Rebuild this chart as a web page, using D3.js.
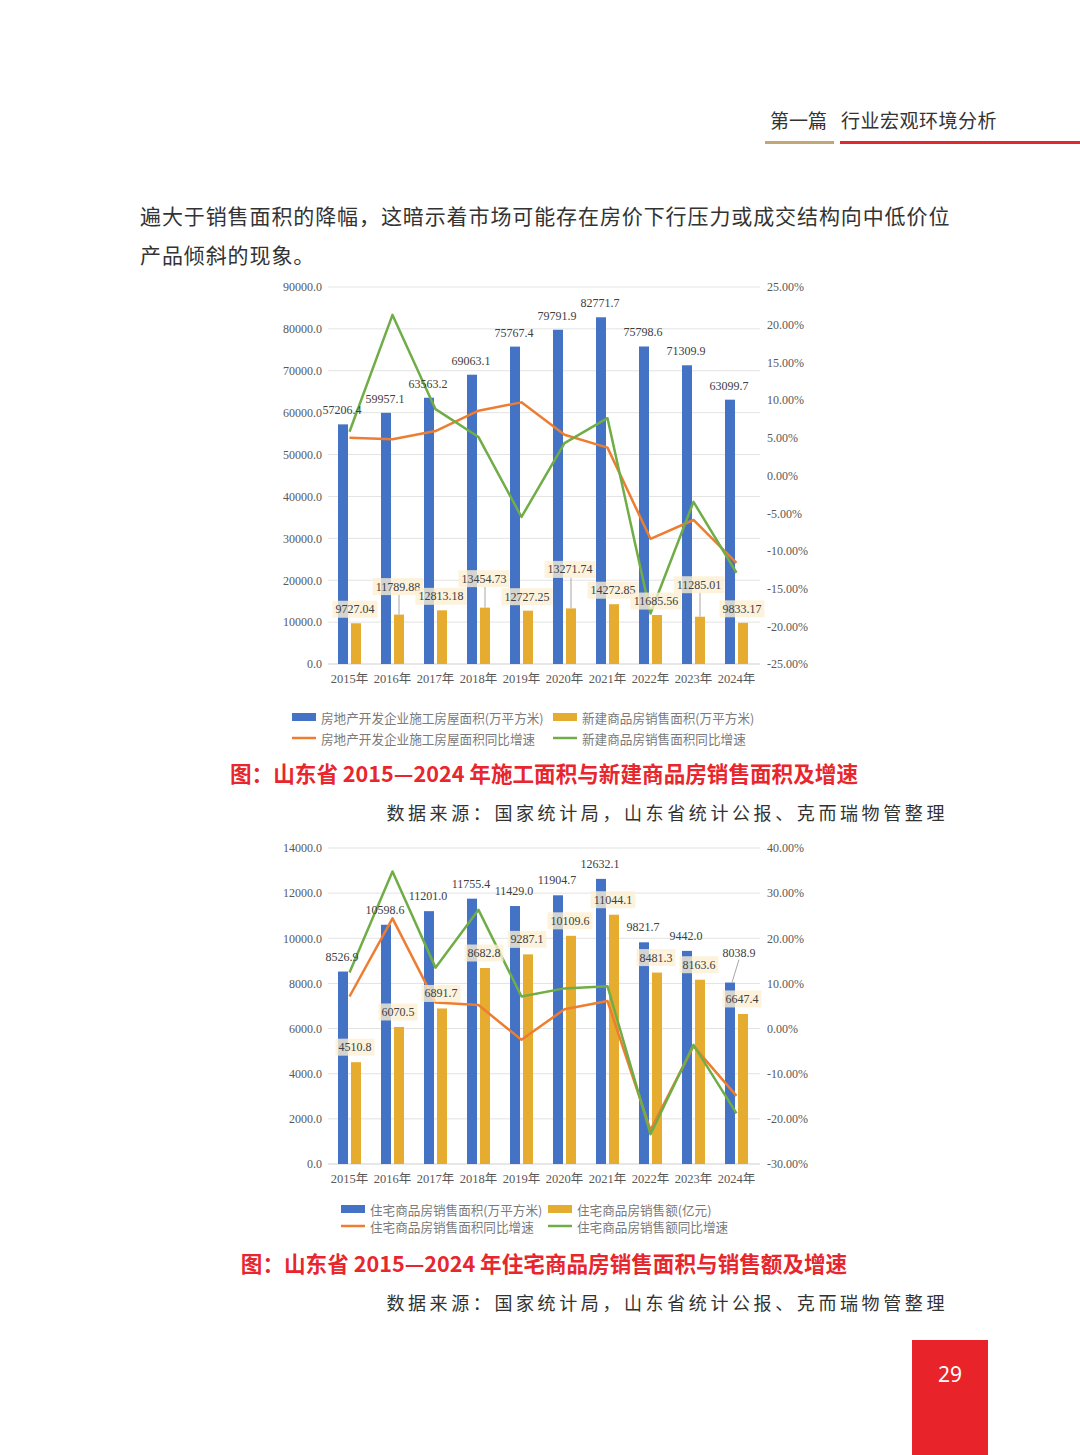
<!DOCTYPE html>
<html><head><meta charset="utf-8">
<script src="https://cdn.jsdelivr.net/npm/d3@7"></script>
<style>
html,body{margin:0;padding:0;background:#fff;}
svg{display:block;}
</style></head>
<body>
<svg id="page" width="1080" height="1455"></svg>
<script>
// ---------- DATA ----------
const years = ['2015年','2016年','2017年','2018年','2019年','2020年','2021年','2022年','2023年','2024年'];

// Chart 1
const constructionArea = [57206.4, 59957.1, 63563.2, 69063.1, 75767.4, 79791.9, 82771.7, 75798.6, 71309.9, 63099.7];
const newSalesArea = [9727.04, 11789.88, 12813.18, 13454.73, 12727.25, 13271.74, 14272.85, 11685.56, 11285.01, 9833.17];
const constructionGrowth = [5.0, 4.8, 5.9, 8.6, 9.7, 5.4, 3.7, -8.4, -5.9, -11.6];
const newSalesGrowth = [5.8, 21.3, 8.8, 5.1, -5.5, 4.3, 7.6, -18.3, -3.5, -12.9];
const leftTicks1 = [0, 10000, 20000, 30000, 40000, 50000, 60000, 70000, 80000, 90000];
const rightTicks1 = [-25, -20, -15, -10, -5, 0, 5, 10, 15, 20, 25];
const legend1 = ['房地产开发企业施工房屋面积(万平方米)', '新建商品房销售面积(万平方米)', '房地产开发企业施工房屋面积同比增速', '新建商品房销售面积同比增速'];

// Chart 2
const resSalesArea = [8526.9, 10598.6, 11201.0, 11755.4, 11429.0, 11904.7, 12632.1, 9821.7, 9442.0, 8038.9];
const resSalesAmount = [4510.8, 6070.5, 6891.7, 8682.8, 9287.1, 10109.6, 11044.1, 8481.3, 8163.6, 6647.4];
const resAreaGrowth = [7.1, 24.4, 5.8, 5.2, -2.5, 4.3, 6.1, -22.5, -3.9, -14.9];
const resAmountGrowth = [12.4, 34.8, 13.5, 26.3, 7.1, 8.9, 9.4, -23.4, -3.6, -18.8];
const leftTicks2 = [0, 2000, 4000, 6000, 8000, 10000, 12000, 14000];
const rightTicks2 = [-30, -20, -10, 0, 10, 20, 30, 40];
const legend2 = ['住宅商品房销售面积(万平方米)', '住宅商品房销售额(亿元)', '住宅商品房销售面积同比增速', '住宅商品房销售额同比增速'];

// label layout tweaks (offset of label centre above bar top, leader lines)
const labelLift1Orange = [14, 28, 14, 29, 14, 39, 14, 14, 32, 14];
const leader1Orange = [0, 1, 0, 1, 0, 1, 0, 0, 1, 0];
const labelLift2Blue = [15, 15, 15, 15, 15, 15, 15, 15, 15, 30];
const labelShift2Blue = [0, 0, 0, 0, 0, 0, 0, 0, 0, 10];
const leader2Blue = [0, 0, 0, 0, 0, 0, 0, 0, 0, 1];

// ---------- STYLE ----------
const C_BLUE = '#4472c4', C_GOLD = '#e6ac30', C_ORANGE = '#ed7d31', C_GREEN = '#70ad47';
const SERIF = '"Liberation Serif","Times New Roman","Noto Sans CJK SC",serif';
const CJK = '"Noto Sans CJK SC","Noto Sans",sans-serif';

const svg = d3.select('#page');

// ---------- HEADER ----------
svg.append('text').attr('x', 770).attr('y', 128).attr('font-family', CJK).attr('font-size', 19)
  .attr('fill', '#333').text('第一篇');
svg.append('text').attr('x', 841).attr('y', 128).attr('font-family', CJK).attr('font-size', 19)
  .attr('letter-spacing', 0.5).attr('fill', '#333').text('行业宏观环境分析');
svg.append('rect').attr('x', 765).attr('y', 141).attr('width', 69).attr('height', 3).attr('fill', '#c2a676');
svg.append('rect').attr('x', 840).attr('y', 141).attr('width', 240).attr('height', 3).attr('fill', '#e0282e');

// ---------- BODY TEXT ----------
svg.append('text').attr('x', 140).attr('y', 224).attr('font-family', CJK).attr('font-size', 21)
  .attr('letter-spacing', 0.9).attr('fill', '#333').text('遍大于销售面积的降幅，这暗示着市场可能存在房价下行压力或成交结构向中低价位');
svg.append('text').attr('x', 140).attr('y', 263).attr('font-family', CJK).attr('font-size', 21)
  .attr('letter-spacing', 0.9).attr('fill', '#333').text('产品倾斜的现象。');

// ---------- CHART FUNCTION ----------
function drawChart(o) {
  const g = svg.append('g');
  const x = d3.scaleBand().domain(years).range([328, 758]).paddingInner(0.465).paddingOuter(0.2325);
  const inner = d3.scaleBand().domain(['a', 'b']).range([0, x.bandwidth()]).paddingInner(3 / 13);
  const yL = d3.scaleLinear().domain([0, d3.max(o.leftTicks)]).range([o.bottom, o.top]);
  const yR = d3.scaleLinear().domain([d3.min(o.rightTicks), d3.max(o.rightTicks)]).range([o.bottom, o.top]);

  // grid
  g.append('g').selectAll('line').data(o.leftTicks.filter(t => t > 0)).join('line')
    .attr('x1', 328).attr('x2', 760).attr('y1', d => yL(d)).attr('y2', d => yL(d))
    .attr('stroke', '#e3e3e3').attr('stroke-width', 1);
  g.append('line').attr('x1', 328).attr('x2', 760).attr('y1', o.bottom).attr('y2', o.bottom)
    .attr('stroke', '#d0d0d0').attr('stroke-width', 1.2);

  // axes
  const la = g.append('g').attr('transform', 'translate(322,0)')
    .call(d3.axisLeft(yL).tickValues(o.leftTicks).tickFormat(d3.format('.1f')).tickSize(0).tickPadding(0));
  const ra = g.append('g').attr('transform', 'translate(767,0)')
    .call(d3.axisRight(yR).tickValues(o.rightTicks).tickFormat(d => d.toFixed(2) + '%').tickSize(0).tickPadding(0));
  const xa = g.append('g').attr('transform', `translate(0,${o.bottom})`)
    .call(d3.axisBottom(x).tickSize(0).tickPadding(10));
  [la, ra, xa].forEach(a => {
    a.select('.domain').remove();
    a.selectAll('text').attr('font-family', SERIF).attr('font-size', 12).attr('fill', '#595959');
  });
  xa.selectAll('text').attr('font-size', 12.5);

  // bars
  g.append('g').selectAll('rect').data(years).join('rect')
    .attr('x', d => x(d) + inner('a')).attr('width', inner.bandwidth())
    .attr('y', (d, i) => yL(o.bar1[i])).attr('height', (d, i) => o.bottom - yL(o.bar1[i]))
    .attr('fill', C_BLUE);
  g.append('g').selectAll('rect').data(years).join('rect')
    .attr('x', d => x(d) + inner('b')).attr('width', inner.bandwidth())
    .attr('y', (d, i) => yL(o.bar2[i])).attr('height', (d, i) => o.bottom - yL(o.bar2[i]))
    .attr('fill', C_GOLD);

  // lines
  const line = arr => d3.line().x((d, i) => x(years[i]) + x.bandwidth() / 2).y(d => yR(d))(arr);
  g.append('path').attr('d', line(o.line1)).attr('fill', 'none').attr('stroke', C_ORANGE).attr('stroke-width', 2.5).attr('stroke-linejoin', 'round');
  g.append('path').attr('d', line(o.line2)).attr('fill', 'none').attr('stroke', C_GREEN).attr('stroke-width', 2.5).attr('stroke-linejoin', 'round');

  // blue labels (no box)
  const lab = g.append('g');
  years.forEach((yr, i) => {
    const bx = x(yr) + inner('a') + inner.bandwidth() / 2;
    const lift = o.blueLift ? o.blueLift[i] : 14;
    const sh = o.blueShift ? o.blueShift[i] : 0;
    const cy = yL(o.bar1[i]) - lift;
    if (o.blueLeader && o.blueLeader[i]) {
      lab.append('line').attr('x1', bx + sh - 1).attr('y1', cy + 7).attr('x2', bx + 2).attr('y2', yL(o.bar1[i]))
        .attr('stroke', '#a6a6a6').attr('stroke-width', 1);
    }
    lab.append('text').attr('x', bx + sh - 1).attr('y', cy).attr('dominant-baseline', 'central')
      .attr('text-anchor', 'middle').attr('font-family', SERIF).attr('font-size', 12).attr('fill', '#404040')
      .text(o.fmt1(o.bar1[i]));
  });
  // gold labels (boxed)
  years.forEach((yr, i) => {
    const bx = x(yr) + inner('b') + inner.bandwidth() / 2 - 1;
    const lift = o.goldLift ? o.goldLift[i] : 15;
    const cy = yL(o.bar2[i]) - lift;
    if (o.goldLeader && o.goldLeader[i]) {
      lab.append('line').attr('x1', bx + 1).attr('y1', cy + 8).attr('x2', bx + 1).attr('y2', yL(o.bar2[i]))
        .attr('stroke', '#a6a6a6').attr('stroke-width', 1);
    }
    const t = lab.append('text').attr('x', bx).attr('y', cy).attr('dominant-baseline', 'central')
      .attr('text-anchor', 'middle').attr('font-family', SERIF).attr('font-size', 12).attr('fill', '#404040')
      .text(o.fmt2(o.bar2[i]));
    const w = t.node().getComputedTextLength();
    lab.insert('rect', () => t.node()).attr('x', bx - w / 2 - 3).attr('y', cy - 8.5).attr('width', w + 6).attr('height', 17)
      .attr('fill', '#fcefd4').attr('fill-opacity', 0.78);
  });

  // legend
  const lg = g.append('g').attr('font-family', CJK).attr('font-size', 12.6).attr('fill', '#7a7a7a');
  const cols = [o.legX[0], o.legX[1]];
  const rows = o.legY;
  const kinds = [['rect', C_BLUE], ['rect', C_GOLD], ['line', C_ORANGE], ['line', C_GREEN]];
  o.legend.forEach((txt, i) => {
    const cx = cols[i % 2], cy = rows[Math.floor(i / 2)];
    if (kinds[i][0] === 'rect') lg.append('rect').attr('x', cx).attr('y', cy - 4).attr('width', 24).attr('height', 8).attr('fill', kinds[i][1]);
    else lg.append('line').attr('x1', cx).attr('x2', cx + 24).attr('y1', cy).attr('y2', cy).attr('stroke', kinds[i][1]).attr('stroke-width', 2.5);
    lg.append('text').attr('x', cx + 29).attr('y', cy).attr('dominant-baseline', 'central').text(txt);
  });

  // title + source
  svg.append('text').attr('x', 544).attr('y', o.titleY).attr('text-anchor', 'middle').attr('font-family', CJK)
    .attr('font-size', 21.6).attr('font-weight', 'bold').attr('fill', '#e8262d').text(o.title);
  svg.append('text').attr('x', 948).attr('y', o.titleY + 38).attr('text-anchor', 'end').attr('font-family', CJK)
    .attr('font-size', 18).attr('letter-spacing', 3.6).attr('fill', '#333').text('数据来源：国家统计局，山东省统计公报、克而瑞物管整理');
}

drawChart({
  top: 287, bottom: 664, leftTicks: leftTicks1, rightTicks: rightTicks1,
  bar1: constructionArea, bar2: newSalesArea, line1: constructionGrowth, line2: newSalesGrowth,
  fmt1: d3.format('.1f'), fmt2: d3.format('.2f'),
  blueLift: years.map(() => 14), goldLift: labelLift1Orange, goldLeader: leader1Orange,
  legend: legend1, legX: [292, 553], legY: [717, 738],
  title: '图：山东省 2015—2024 年施工面积与新建商品房销售面积及增速', titleY: 782
});

drawChart({
  top: 848, bottom: 1164, leftTicks: leftTicks2, rightTicks: rightTicks2,
  bar1: resSalesArea, bar2: resSalesAmount, line1: resAreaGrowth, line2: resAmountGrowth,
  fmt1: d3.format('.1f'), fmt2: d3.format('.1f'),
  blueLift: labelLift2Blue, blueShift: labelShift2Blue, blueLeader: leader2Blue,
  goldLift: years.map(() => 15),
  legend: legend2, legX: [341, 548], legY: [1209, 1226],
  title: '图：山东省 2015—2024 年住宅商品房销售面积与销售额及增速', titleY: 1272
});

// ---------- PAGE NUMBER ----------
svg.append('rect').attr('x', 912).attr('y', 1340).attr('width', 76).attr('height', 115).attr('fill', '#e8232a');
svg.append('text').attr('x', 950).attr('y', 1374).attr('text-anchor', 'middle').attr('dominant-baseline', 'central')
  .attr('font-family', '"Noto Sans",sans-serif').attr('font-size', 21).attr('fill', '#fff').text('29');
</script>
</body></html>
